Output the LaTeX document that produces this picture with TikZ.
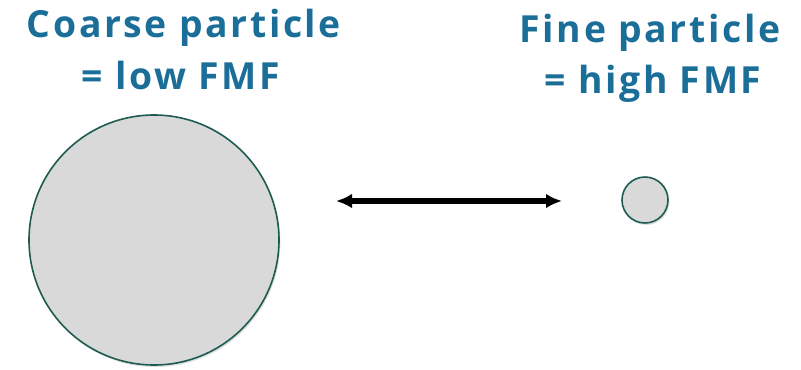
\documentclass[tikz,border=0pt]{standalone}
\usepackage{fontspec}
\setmainfont{Open Sans}[LetterSpace=7]
\usepackage{xcolor}
\usetikzlibrary{arrows.meta,positioning,shadows}
\definecolor{fmfblue}{RGB}{26,110,152}
\definecolor{rimgreen}{RGB}{30,92,82}
\definecolor{grainfill}{RGB}{217,217,217}
\tikzset{
  grain/.style={
    circle, draw=rimgreen, fill=grainfill, line width=1.2pt,
    inner sep=0pt, drop shadow={opacity=0.25,shadow xshift=1pt,shadow yshift=-1.5pt}
  },
  fmftext/.style={font=\fontsize{28}{33}\selectfont\bfseries, text=fmfblue, anchor=base, inner sep=0pt},
  sizearrow/.style={{Latex[length=12pt,width=11pt]}-{Latex[length=12pt,width=11pt]},line width=3.8pt,black}
}
\begin{document}
\begin{tikzpicture}[x=0.75pt,y=-0.75pt]
  \useasboundingbox (0,0) rectangle (801,369);
  \node[fmftext] (coarsetop) at (184,37) {Coarse particle};
  \node[fmftext] (coarsebot) at (181,89) {= low FMF};
  \node[fmftext] (finetop) at (650,42) {Fine particle};
  \node[fmftext] (finebot) at (653,93) {= high FMF};
  \node[grain,minimum size=187.5pt] (coarse) at (154,240) {};
  \node[grain,minimum size=34.5pt] (fine) at (645,200) {};
  \coordinate (arrowl) at (336,201);
  \coordinate (arrowr) at (562,201);
  \draw[sizearrow] (arrowl) -- (arrowr);
\end{tikzpicture}
\end{document}
